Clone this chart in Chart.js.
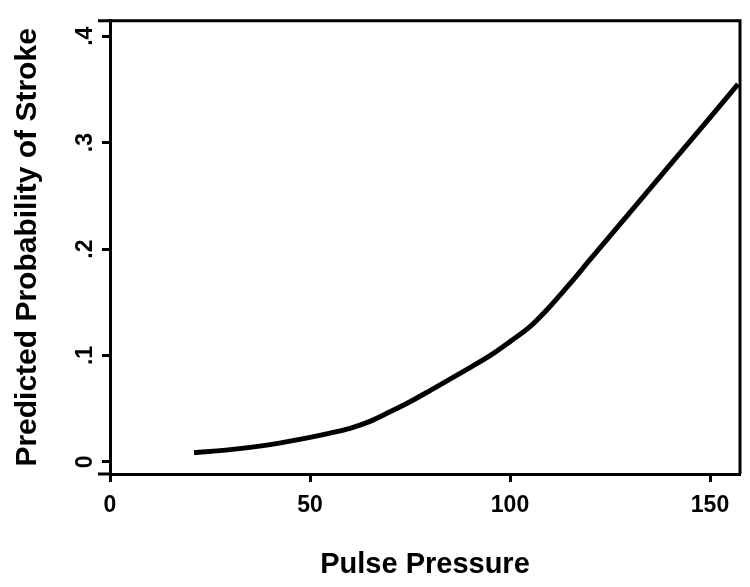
<!DOCTYPE html>
<html>
<head>
<meta charset="utf-8">
<script src="https://cdn.jsdelivr.net/npm/chart.js@4"></script>
<style>
html,body{margin:0;padding:0;background:#fff;}
#wrap{width:750px;height:587px;}
</style>
</head>
<body>
<div id="wrap"><canvas id="c" width="750" height="587"></canvas></div>
<script>
// Data
const pulsePressure = [21, 30, 40, 50, 55, 60, 65, 70, 75, 80, 90, 95, 100, 105, 110, 115, 120, 130, 140, 150, 157];
const probStroke    = [0.0085, 0.0115, 0.0162, 0.023, 0.027, 0.0315, 0.038, 0.047, 0.0565, 0.067, 0.0886, 0.0998, 0.113, 0.127, 0.146, 0.1675, 0.190, 0.2345, 0.279, 0.3235, 0.355];
const xTickValues = [0, 50, 100, 150];
const xTickLabels = ["0", "50", "100", "150"];
const yTickValues = [0, 0.1, 0.2, 0.3, 0.4];
const yTickLabels = ["0", ".1", ".2", ".3", ".4"];
const xTitle = "Pulse Pressure";
const yTitle = "Predicted Probability of Stroke";

Chart.defaults.font.family = "'Liberation Sans', Arial, Helvetica, sans-serif";
Chart.defaults.color = "#000";

const points = pulsePressure.map((x, i) => ({x: x, y: probStroke[i]}));

const framePlugin = {
  id: 'frame',
  afterDraw(chart) {
    const a = chart.chartArea;
    const ctx = chart.ctx;
    ctx.save();
    ctx.strokeStyle = '#000';
    ctx.lineWidth = 3;
    ctx.lineCap = 'butt';
    ctx.beginPath();
    ctx.moveTo(a.left - 12, a.top);
    ctx.lineTo(a.right + 1.5, a.top);
    ctx.moveTo(a.right, a.top);
    ctx.lineTo(a.right, a.bottom);
    ctx.moveTo(a.left - 12, a.bottom);
    ctx.lineTo(a.left, a.bottom);
    ctx.stroke();
    ctx.restore();
  }
};

new Chart(document.getElementById('c'), {
  type: 'line',
  data: {
    datasets: [{
      data: points,
      borderColor: '#000',
      borderWidth: 5,
      pointRadius: 0,
      cubicInterpolationMode: 'monotone',
      fill: false,
      clip: false
    }]
  },
  options: {
    responsive: false,
    animation: false,
    devicePixelRatio: 1,
    layout: {padding: {top: 14, right: 10, left: 0, bottom: 0}},
    plugins: {legend: {display: false}, tooltip: {enabled: false}},
    scales: {
      x: {
        type: 'linear',
        min: 0,
        max: 157.5,
        afterBuildTicks: s => { s.ticks = xTickValues.map(v => ({value: v})); },
        afterFit: s => { s.height = 113; },
        ticks: {
          callback: (v) => xTickLabels[xTickValues.indexOf(v)],
          font: {size: 23, weight: 'bold'},
          color: '#000',
          padding: 10,
          maxRotation: 0
        },
        grid: {drawOnChartArea: false, tickLength: 8, tickWidth: 3, tickColor: '#000'},
        border: {display: true, color: '#000', width: 3},
        title: {display: true, text: xTitle, font: {size: 29, weight: 'bold'}, color: '#000', padding: {top: 5, bottom: 5}}
      },
      y: {
        type: 'linear',
        min: -0.0114,
        max: 0.4145,
        afterBuildTicks: s => { s.ticks = yTickValues.map(v => ({value: v})); },
        afterFit: s => { s.width = 110; },
        ticks: {
          callback: (v) => yTickLabels[yTickValues.findIndex(t => Math.abs(t - v) < 1e-9)],
          font: {size: 23, weight: 'bold'},
          color: '#000',
          padding: 7,
          minRotation: 90,
          maxRotation: 90,
          crossAlign: 'center'
        },
        grid: {drawOnChartArea: false, tickLength: 8, tickWidth: 3, tickColor: '#000'},
        border: {display: true, color: '#000', width: 3},
        title: {display: true, text: yTitle, font: {size: 30, weight: 'bold'}, color: '#000', padding: {top: 10, bottom: 6}}
      }
    }
  },
  plugins: [framePlugin]
});
</script>
</body>
</html>
